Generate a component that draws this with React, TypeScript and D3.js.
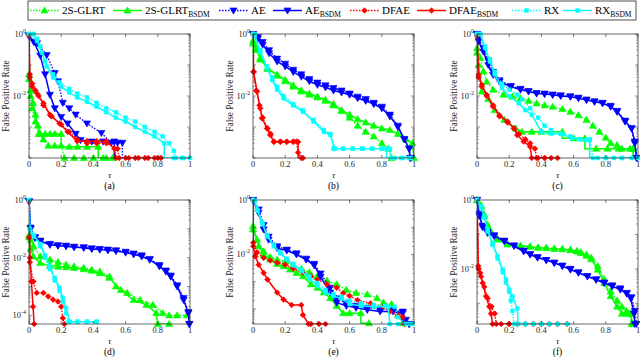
import React from "react";
import * as d3 from "d3";

type Pt = [number, number];

// ---------- data: tau vs false positive rate ----------
// (a)
const glrtA: Pt[] = [[0,0.035],[0.01,0.01],[0.02,0.004],[0.04,0.0015],[0.06,0.0006],[0.09,0.0004],[0.12,0.00025],[0.16,0.00025],[0.2,0.00025],[0.22,0.0001],[0.28,0.0001],[0.34,0.0001],[0.4,0.0001],[0.46,0.0001],[0.52,0.0001]];
const glrtBsdmA: Pt[] = [[0,0.05],[0.01,0.015],[0.025,0.006],[0.04,0.0025],[0.055,0.0011],[0.07,0.0006],[0.1,0.0006],[0.13,0.0006],[0.16,0.0006],[0.2,0.0006],[0.2,0.00023],[0.25,0.00023],[0.3,0.00023],[0.36,0.00023],[0.43,0.00023],[0.43,0.0001],[0.48,0.0001]];
const aeA: Pt[] = [[0,0.85],[0.05,0.5],[0.11,0.21],[0.16,0.055],[0.18,0.03],[0.21,0.006],[0.25,0.004],[0.29,0.0025],[0.36,0.0013],[0.45,0.00064],[0.51,0.00031],[0.55,0.00031],[0.58,0.00031],[0.58,0.0001]];
const aeBsdmA: Pt[] = [[0,0.9],[0.03,0.55],[0.07,0.2],[0.1,0.05],[0.13,0.011],[0.16,0.004],[0.2,0.0021],[0.24,0.0013],[0.29,0.0006],[0.32,0.00038],[0.39,0.00034],[0.46,0.00034],[0.53,0.00034],[0.53,0.0001]];
const dfaeA: Pt[] = [[0,0.9],[0.005,0.04],[0.02,0.02],[0.05,0.012],[0.09,0.005],[0.14,0.0022],[0.2,0.0012],[0.25,0.0007],[0.3,0.0004],[0.36,0.0003],[0.42,0.0003],[0.48,0.0003],[0.55,0.0002],[0.56,0.0001],[0.62,0.0001],[0.68,0.0001],[0.74,0.0001],[0.8,0.0001]];
const dfaeBsdmA: Pt[] = [[0,0.9],[0.005,0.05],[0.02,0.025],[0.04,0.015],[0.06,0.01],[0.09,0.0058],[0.13,0.0025],[0.19,0.0013],[0.24,0.0007],[0.3,0.00035],[0.36,0.00035],[0.42,0.00035],[0.48,0.00035],[0.53,0.0002],[0.54,0.0001],[0.6,0.0001],[0.66,0.0001],[0.72,0.0001],[0.78,0.0001],[0.82,0.0001]];
const rxA: Pt[] = [[0,1],[0.03,1],[0.05,0.7],[0.07,0.4],[0.1,0.13],[0.15,0.05],[0.19,0.028],[0.25,0.017],[0.3,0.012],[0.36,0.009],[0.42,0.006],[0.48,0.004],[0.54,0.003],[0.6,0.002],[0.66,0.0015],[0.72,0.001],[0.78,0.0007],[0.83,0.0005],[0.87,0.0003],[0.9,0.00017],[0.91,0.0001],[0.96,0.0001]];
const rxBsdmA: Pt[] = [[0,1],[0.02,1],[0.05,0.6],[0.08,0.25],[0.11,0.09],[0.15,0.04],[0.2,0.02],[0.25,0.013],[0.3,0.009],[0.36,0.0065],[0.42,0.0045],[0.48,0.003],[0.54,0.002],[0.6,0.0015],[0.66,0.001],[0.72,0.0007],[0.78,0.0005],[0.84,0.0003],[0.84,0.0001],[0.9,0.0001],[0.95,0.0001],[1,0.0001]];

// (b)
const glrtB: Pt[] = [[0,0.5],[0.02,0.3],[0.045,0.15],[0.09,0.075],[0.15,0.045],[0.2,0.03],[0.25,0.02],[0.3,0.014],[0.35,0.011],[0.4,0.009],[0.45,0.007],[0.5,0.005],[0.55,0.0033],[0.6,0.002],[0.65,0.0011],[0.7,0.0007],[0.75,0.0005],[0.8,0.0003],[0.84,0.0002],[0.86,0.0001]];
const glrtBsdmB: Pt[] = [[0,0.6],[0.02,0.35],[0.045,0.17],[0.09,0.08],[0.15,0.048],[0.2,0.033],[0.25,0.022],[0.3,0.015],[0.35,0.012],[0.4,0.0095],[0.45,0.0075],[0.5,0.0055],[0.55,0.0035],[0.6,0.0025],[0.65,0.0018],[0.7,0.0014],[0.75,0.0011],[0.8,0.0009],[0.85,0.0008],[0.9,0.0006],[0.95,0.0004],[0.99,0.0003],[1,0.0001]];
const aeB: Pt[] = [[0,1],[0.03,0.8],[0.06,0.55],[0.1,0.3],[0.15,0.16],[0.2,0.11],[0.25,0.07],[0.3,0.05],[0.35,0.035],[0.4,0.027],[0.45,0.022],[0.5,0.018],[0.55,0.015],[0.6,0.012],[0.65,0.0095],[0.7,0.008],[0.75,0.006],[0.8,0.0045],[0.85,0.0025],[0.9,0.0011],[0.94,0.0004],[0.97,0.0002],[0.98,0.0001]];
const aeBsdmB: Pt[] = [[0,1],[0.03,0.7],[0.06,0.45],[0.1,0.24],[0.15,0.13],[0.2,0.09],[0.25,0.06],[0.3,0.042],[0.35,0.03],[0.4,0.023],[0.45,0.019],[0.5,0.015],[0.55,0.013],[0.6,0.011],[0.65,0.0085],[0.7,0.007],[0.75,0.0055],[0.8,0.004],[0.85,0.0022],[0.9,0.001],[0.94,0.0004],[0.97,0.0002],[0.975,0.0001]];
const dfaeB: Pt[] = [[0,1],[0.003,0.06],[0.02,0.015],[0.04,0.005],[0.06,0.002],[0.09,0.0009],[0.11,0.0006],[0.13,0.00034],[0.17,0.00034],[0.21,0.00034],[0.25,0.00034],[0.27,0.00034],[0.28,0.00015],[0.3,0.0001]];
const dfaeBsdmB: Pt[] = [[0,1],[0.004,0.06],[0.025,0.014],[0.045,0.004],[0.056,0.0019],[0.087,0.0009],[0.107,0.00055],[0.13,0.00033],[0.17,0.00033],[0.21,0.00033],[0.25,0.00033],[0.28,0.00033],[0.28,0.0001],[0.31,0.0001]];
const rxB: Pt[] = [[0,1],[0.01,0.9],[0.045,0.3],[0.087,0.09],[0.12,0.04],[0.15,0.02],[0.19,0.01],[0.25,0.0055],[0.31,0.0035],[0.376,0.0017],[0.44,0.0008],[0.48,0.0006],[0.5,0.0002],[0.56,0.0002],[0.62,0.0002],[0.68,0.0002],[0.74,0.0002],[0.8,0.0002],[0.85,0.0002],[0.86,0.0001],[0.92,0.0001],[0.97,0.0001]];
const rxBsdmB: Pt[] = [[0,1],[0.01,1],[0.045,0.27],[0.087,0.08],[0.118,0.033],[0.15,0.016],[0.19,0.0084],[0.25,0.005],[0.31,0.0031],[0.376,0.0015],[0.44,0.0007],[0.48,0.00055],[0.51,0.0002],[0.56,0.0002],[0.62,0.0002],[0.68,0.0002],[0.74,0.0002],[0.8,0.0002],[0.83,0.0002],[0.83,0.0001],[0.88,0.0001],[0.93,0.0001],[0.98,0.0001]];

// (c)
const glrtC: Pt[] = [[0,0.35],[0.02,0.17],[0.04,0.062],[0.06,0.029],[0.1,0.016],[0.165,0.011],[0.22,0.0095],[0.27,0.0084],[0.32,0.007],[0.37,0.0058],[0.42,0.005],[0.47,0.0045],[0.53,0.0038],[0.58,0.0031],[0.63,0.0024],[0.68,0.0017],[0.72,0.0011],[0.76,0.0007],[0.8,0.00045],[0.83,0.0003],[0.87,0.00026],[0.9,0.0002],[0.95,0.0002],[0.97,0.0002],[0.97,0.0001]];
const glrtBsdmC: Pt[] = [[0,0.25],[0.01,0.1],[0.03,0.014],[0.07,0.008],[0.11,0.0035],[0.17,0.0017],[0.24,0.0009],[0.28,0.0007],[0.34,0.0007],[0.4,0.0007],[0.46,0.0007],[0.53,0.0007],[0.53,0.00043],[0.6,0.00043],[0.67,0.00043],[0.67,0.0002],[0.74,0.0002],[0.81,0.0002],[0.88,0.0002],[0.97,0.0002],[0.97,0.0001]];
const aeC: Pt[] = [[0,1],[0.01,0.7],[0.04,0.35],[0.07,0.14],[0.1,0.06],[0.14,0.032],[0.21,0.021],[0.27,0.017],[0.32,0.0145],[0.37,0.0125],[0.42,0.012],[0.47,0.011],[0.52,0.0105],[0.58,0.0097],[0.63,0.0088],[0.68,0.0077],[0.73,0.0067],[0.78,0.006],[0.83,0.0048],[0.87,0.0033],[0.92,0.0016],[0.96,0.0009],[0.98,0.0003],[0.995,0.0001]];
const aeBsdmC: Pt[] = [[0,1],[0.01,0.58],[0.04,0.27],[0.07,0.1],[0.1,0.048],[0.14,0.029],[0.21,0.02],[0.27,0.016],[0.32,0.014],[0.37,0.012],[0.42,0.0115],[0.47,0.011],[0.52,0.01],[0.58,0.0095],[0.63,0.0085],[0.68,0.0074],[0.73,0.0065],[0.78,0.0058],[0.83,0.0045],[0.87,0.0031],[0.92,0.0015],[0.96,0.0009],[0.98,0.00034],[0.99,0.0001]];
const dfaeC: Pt[] = [[0,0.9],[0.01,0.04],[0.03,0.02],[0.06,0.01],[0.1,0.0045],[0.14,0.0022],[0.19,0.0014],[0.23,0.0009],[0.26,0.0006],[0.3,0.0004],[0.33,0.0003],[0.36,0.0002],[0.37,0.0001],[0.42,0.0001]];
const dfaeBsdmC: Pt[] = [[0,0.9],[0.01,0.048],[0.03,0.023],[0.06,0.011],[0.1,0.005],[0.14,0.0024],[0.19,0.0015],[0.23,0.0009],[0.25,0.00055],[0.29,0.00034],[0.33,0.00023],[0.34,0.0001],[0.38,0.0001],[0.42,0.0001],[0.46,0.0001],[0.5,0.0001]];
const rxC: Pt[] = [[0,1],[0.02,1],[0.05,0.4],[0.08,0.15],[0.11,0.06],[0.155,0.025],[0.2,0.016],[0.25,0.011],[0.28,0.008],[0.33,0.004],[0.38,0.002],[0.42,0.0011],[0.46,0.0008],[0.52,0.0006],[0.58,0.0005],[0.64,0.0004],[0.7,0.0004],[0.72,0.0001],[0.8,0.0001],[0.9,0.0001],[1,0.0001]];
const rxBsdmC: Pt[] = [[0,1],[0.02,1],[0.05,0.35],[0.08,0.13],[0.11,0.05],[0.155,0.018],[0.2,0.01],[0.26,0.0058],[0.3,0.0035],[0.34,0.0025],[0.4,0.0007],[0.46,0.0006],[0.53,0.0006],[0.59,0.00043],[0.67,0.00038],[0.7,0.00038],[0.7,0.0001],[0.75,0.0001],[0.8,0.0001],[0.85,0.0001],[0.9,0.0001],[0.96,0.0001]];

// (d)
const glrtD: Pt[] = [[0,0.06],[0.01,0.04],[0.027,0.025],[0.07,0.011],[0.13,0.0085],[0.18,0.007],[0.23,0.0057],[0.28,0.005],[0.34,0.0044],[0.39,0.0038],[0.44,0.0033],[0.5,0.0022],[0.54,0.001],[0.61,0.0006],[0.69,0.00034],[0.77,0.00023],[0.83,0.00012],[0.87,0.0001],[0.92,0.0001],[0.98,0.0001]];
const glrtBsdmD: Pt[] = [[0,0.05],[0.01,0.02],[0.027,0.011],[0.07,0.0065],[0.13,0.0052],[0.18,0.0049],[0.23,0.0047],[0.28,0.0044],[0.34,0.004],[0.39,0.0035],[0.44,0.0029],[0.5,0.002],[0.57,0.00076],[0.65,0.00034],[0.73,0.00023],[0.79,0.00012],[0.8,0.00005],[0.87,0.00005]];
const aeD: Pt[] = [[0,0.9],[0.01,0.11],[0.037,0.052],[0.07,0.039],[0.13,0.03],[0.18,0.027],[0.23,0.026],[0.28,0.024],[0.34,0.023],[0.39,0.021],[0.44,0.02],[0.49,0.019],[0.54,0.018],[0.6,0.016],[0.65,0.014],[0.7,0.012],[0.75,0.009],[0.81,0.0055],[0.85,0.0036],[0.88,0.0024],[0.92,0.0011],[0.96,0.0004],[0.99,0.00013],[0.997,0.00005]];
const aeBsdmD: Pt[] = [[0,0.9],[0.01,0.1],[0.037,0.049],[0.07,0.037],[0.13,0.028],[0.18,0.026],[0.23,0.025],[0.28,0.023],[0.34,0.022],[0.39,0.02],[0.44,0.019],[0.49,0.018],[0.54,0.017],[0.6,0.015],[0.65,0.013],[0.7,0.011],[0.75,0.0085],[0.81,0.005],[0.85,0.0033],[0.88,0.0022],[0.92,0.001],[0.96,0.00034],[0.99,0.00012],[0.995,0.00005]];
const dfaeD: Pt[] = [[0,0.05],[0.005,0.007],[0.027,0.0015],[0.048,0.0006],[0.09,0.0006],[0.12,0.00045],[0.15,0.00035],[0.18,0.0003],[0.2,0.0002],[0.21,0.00008],[0.22,0.00005]];
const dfaeBsdmD: Pt[] = [[0,0.9],[0.003,0.05],[0.006,0.01],[0.015,0.0015],[0.025,0.0002],[0.032,0.00005]];
const rxD: Pt[] = [[0,1],[0.006,0.09],[0.03,0.055],[0.07,0.025],[0.1,0.01],[0.13,0.004],[0.16,0.0016],[0.19,0.0007],[0.21,0.0003],[0.23,0.00012],[0.245,0.00006],[0.3,0.00006],[0.36,0.00006],[0.42,0.00006]];
const rxBsdmD: Pt[] = [[0,1],[0.006,0.1],[0.03,0.06],[0.07,0.03],[0.1,0.012],[0.13,0.005],[0.16,0.002],[0.19,0.0009],[0.21,0.0004],[0.23,0.00018],[0.255,0.00006],[0.3,0.00006],[0.36,0.00006],[0.42,0.00006]];

// (e)
const glrtE: Pt[] = [[0,0.083],[0.025,0.035],[0.066,0.013],[0.107,0.008],[0.15,0.0065],[0.2,0.0055],[0.25,0.004],[0.3,0.003],[0.35,0.0022],[0.4,0.0016],[0.46,0.0011],[0.52,0.0008],[0.58,0.0005],[0.64,0.00039],[0.71,0.00034],[0.77,0.00025],[0.81,0.00017],[0.86,0.00015],[0.9,0.00006],[0.93,0.00003]];
const glrtBsdmE: Pt[] = [[0,0.11],[0.035,0.02],[0.066,0.0098],[0.107,0.0065],[0.15,0.0045],[0.19,0.0037],[0.23,0.0028],[0.27,0.0021],[0.31,0.0016],[0.36,0.0008],[0.4,0.0006],[0.44,0.0004],[0.48,0.00025],[0.52,0.00013],[0.56,0.00007],[0.6,0.00007],[0.67,0.00007],[0.67,0.00003],[0.72,0.00003]];
const aeE: Pt[] = [[0,1],[0.035,0.45],[0.066,0.12],[0.097,0.045],[0.15,0.02],[0.21,0.015],[0.27,0.011],[0.33,0.007],[0.38,0.0045],[0.42,0.002],[0.48,0.0006],[0.52,0.00025],[0.58,0.00016],[0.64,0.00013],[0.71,0.00011],[0.79,0.0001],[0.87,0.00009],[0.93,0.00008],[0.95,0.00004],[0.97,0.000028]];
const aeBsdmE: Pt[] = [[0,1],[0.035,0.34],[0.066,0.083],[0.097,0.035],[0.15,0.017],[0.21,0.014],[0.27,0.01],[0.33,0.0065],[0.38,0.004],[0.42,0.0015],[0.48,0.0004],[0.52,0.00017],[0.58,0.00013],[0.64,0.00011],[0.71,0.000093],[0.79,0.000081],[0.87,0.000081],[0.93,0.00007],[0.94,0.000035],[0.97,0.000028]];
const dfaeE: Pt[] = [[0,1],[0.002,0.027],[0.025,0.012],[0.066,0.0075],[0.107,0.006],[0.15,0.005],[0.2,0.0042],[0.25,0.003],[0.31,0.0022],[0.36,0.0016],[0.4,0.0012],[0.46,0.0008],[0.52,0.0006],[0.56,0.00038],[0.6,0.0003],[0.65,0.00021],[0.73,0.00016],[0.81,0.00012],[0.85,0.00008],[0.9,0.00006],[0.93,0.00005],[0.94,0.000028]];
const dfaeBsdmE: Pt[] = [[0,1],[0.002,0.02],[0.015,0.0085],[0.035,0.0042],[0.066,0.0021],[0.09,0.0012],[0.15,0.0004],[0.19,0.00022],[0.24,0.00014],[0.3,0.00014],[0.31,0.00006],[0.345,0.000028],[0.36,0.000028],[0.41,0.000028],[0.45,0.000028]];
const rxE: Pt[] = [[0,1],[0.01,0.95],[0.03,0.4],[0.06,0.13],[0.09,0.045],[0.13,0.022],[0.17,0.012],[0.21,0.007],[0.25,0.0045],[0.3,0.0028],[0.35,0.0016],[0.4,0.0009],[0.45,0.0005],[0.5,0.00035],[0.55,0.00028],[0.6,0.0002],[0.67,0.00016],[0.75,0.00014],[0.82,0.00013],[0.88,0.00012],[0.9,0.00005],[0.95,0.000028],[0.99,0.000028]];
const rxBsdmE: Pt[] = [[0,1],[0.01,0.9],[0.025,0.45],[0.056,0.15],[0.087,0.05],[0.13,0.02],[0.17,0.011],[0.21,0.0065],[0.25,0.004],[0.3,0.0025],[0.35,0.0013],[0.4,0.0007],[0.45,0.0004],[0.5,0.0003],[0.55,0.00024],[0.6,0.00015],[0.67,0.00013],[0.75,0.00012],[0.84,0.00012],[0.85,0.000028],[0.9,0.000028],[0.97,0.000028]];

// (f)
const glrtF: Pt[] = [[0,1],[0.025,0.7],[0.045,0.38],[0.066,0.19],[0.087,0.12],[0.128,0.075],[0.19,0.053],[0.27,0.047],[0.33,0.045],[0.38,0.042],[0.43,0.041],[0.48,0.039],[0.53,0.038],[0.58,0.036],[0.62,0.033],[0.645,0.03],[0.68,0.026],[0.71,0.021],[0.75,0.012],[0.79,0.005],[0.83,0.0022],[0.87,0.0012],[0.9,0.0008],[0.93,0.0006],[0.95,0.0005],[0.96,0.00025]];
const glrtBsdmF: Pt[] = [[0,1],[0.025,0.66],[0.045,0.34],[0.066,0.17],[0.087,0.11],[0.128,0.071],[0.19,0.051],[0.27,0.046],[0.33,0.044],[0.38,0.041],[0.43,0.04],[0.48,0.038],[0.53,0.037],[0.58,0.035],[0.62,0.032],[0.645,0.029],[0.68,0.024],[0.71,0.019],[0.75,0.0095],[0.79,0.0039],[0.83,0.0016],[0.87,0.0008],[0.9,0.0005],[0.93,0.0005],[0.955,0.0005],[0.965,0.00025]];
const aeF: Pt[] = [[0,1],[0.015,0.4],[0.035,0.18],[0.066,0.12],[0.107,0.095],[0.17,0.066],[0.23,0.048],[0.29,0.034],[0.33,0.027],[0.376,0.022],[0.43,0.018],[0.48,0.015],[0.53,0.0125],[0.58,0.01],[0.63,0.008],[0.686,0.0062],[0.74,0.005],[0.79,0.004],[0.84,0.0033],[0.89,0.0027],[0.93,0.002],[0.96,0.0015],[0.98,0.0006],[0.99,0.00025]];
const aeBsdmF: Pt[] = [[0,1],[0.015,0.34],[0.035,0.16],[0.066,0.11],[0.107,0.089],[0.17,0.063],[0.23,0.046],[0.29,0.032],[0.33,0.026],[0.376,0.021],[0.43,0.018],[0.48,0.015],[0.53,0.012],[0.58,0.0095],[0.63,0.0077],[0.686,0.006],[0.74,0.0048],[0.79,0.0039],[0.84,0.0031],[0.89,0.0025],[0.93,0.0019],[0.955,0.0014],[0.975,0.0005],[0.98,0.00025]];
const dfaeF: Pt[] = [[0,1],[0.01,0.01],[0.025,0.006],[0.045,0.003],[0.066,0.0014],[0.09,0.0008],[0.11,0.0005],[0.12,0.00025],[0.2,0.00025]];
const dfaeBsdmF: Pt[] = [[0,1],[0.008,0.012],[0.02,0.0076],[0.035,0.0039],[0.056,0.0016],[0.076,0.0008],[0.087,0.0005],[0.097,0.00025],[0.15,0.00025],[0.2,0.00025],[0.25,0.00025],[0.3,0.00025],[0.35,0.00025],[0.4,0.00025],[0.45,0.00025],[0.5,0.00025],[0.56,0.00025]];
const rxF: Pt[] = [[0,1],[0.025,0.6],[0.045,0.3],[0.066,0.12],[0.097,0.05],[0.128,0.02],[0.16,0.008],[0.18,0.004],[0.2,0.0022],[0.21,0.0012],[0.22,0.0006],[0.23,0.00025],[0.3,0.00025]];
const rxBsdmF: Pt[] = [[0,1],[0.025,0.66],[0.045,0.34],[0.066,0.14],[0.097,0.056],[0.128,0.023],[0.16,0.0095],[0.18,0.0049],[0.2,0.0025],[0.22,0.0016],[0.25,0.0007],[0.256,0.00025],[0.3,0.00025],[0.35,0.00025],[0.4,0.00025],[0.45,0.00025],[0.5,0.00025],[0.56,0.00025]];

const seriesNames = ["2S-GLRT", "2S-GLRT", "AE", "AE", "DFAE", "DFAE", "RX", "RX"];
const seriesBsdm = [false, true, false, true, false, true, false, true];
const panelLabels = ["(a)", "(b)", "(c)", "(d)", "(e)", "(f)"];
const panelYMin = [1e-4, 1e-4, 1e-4, 5e-5, 2.8e-5, 2.5e-4];
const panelYTicks = [[1, 1e-2], [1, 1e-2], [1, 1e-2], [1, 1e-2, 1e-4], [1, 1e-2], [1, 1e-2]];
const xTicks = [0, 0.2, 0.4, 0.6, 0.8, 1];
const xTickLabels = ["0", "0.2", "0.4", "0.6", "0.8", "1"];

const panelSeries: Pt[][][] = [
  [glrtA, glrtBsdmA, aeA, aeBsdmA, dfaeA, dfaeBsdmA, rxA, rxBsdmA],
  [glrtB, glrtBsdmB, aeB, aeBsdmB, dfaeB, dfaeBsdmB, rxB, rxBsdmB],
  [glrtC, glrtBsdmC, aeC, aeBsdmC, dfaeC, dfaeBsdmC, rxC, rxBsdmC],
  [glrtD, glrtBsdmD, aeD, aeBsdmD, dfaeD, dfaeBsdmD, rxD, rxBsdmD],
  [glrtE, glrtBsdmE, aeE, aeBsdmE, dfaeE, dfaeBsdmE, rxE, rxBsdmE],
  [glrtF, glrtBsdmF, aeF, aeBsdmF, dfaeF, dfaeBsdmF, rxF, rxBsdmF],
];

// ---------- styles / layout ----------
const colors = ["#00ff00", "#00ff00", "#0000ff", "#0000ff", "#ff0000", "#ff0000", "#00ffff", "#00ffff"];
const markerKinds = ["up", "up", "down", "down", "diamond", "diamond", "square", "square"];
const FONT = "Liberation Serif, Times New Roman, serif";
const colX = [29, 253, 477];
const rowY = [34, 200];
const plotW = 161;
const plotH = 124;
const legendX = [30, 113, 219, 273, 350, 417, 512, 563];

const triPath = d3.symbol().type(d3.symbolTriangle).size(22)() as string;
const sqPath = d3.symbol().type(d3.symbolSquare).size(14)() as string;
const diaPath = d3.symbol().type(d3.symbolSquare).size(16)() as string;

const Marker = ({ kind, x, y, color }: { kind: string; x: number; y: number; color: string }) => {
  if (kind === "up") return <path d={triPath} transform={`translate(${x},${y + 0.5})`} fill={color} stroke={color} strokeWidth={0.6} />;
  if (kind === "down") return <path d={triPath} transform={`translate(${x},${y - 0.5}) rotate(180)`} fill={color} stroke={color} strokeWidth={0.6} />;
  if (kind === "diamond") return <path d={diaPath} transform={`translate(${x},${y}) rotate(45)`} fill={color} stroke={color} strokeWidth={0.6} />;
  return <path d={sqPath} transform={`translate(${x},${y})`} fill={color} stroke={color} strokeWidth={0.6} />;
};

const Panel = ({ idx }: { idx: number }) => {
  const x0 = colX[idx % 3];
  const y0 = rowY[Math.floor(idx / 3)];
  const lo = panelYMin[idx];
  const x = d3.scaleLinear().domain([0, 1]).range([x0, x0 + plotW]);
  const y = d3.scaleLog().domain([lo, 1]).range([y0 + plotH, y0]);
  const yc = (v: number) => y(Math.max(v, lo));
  const line = d3.line<Pt>().x(d => x(d[0])).y(d => yc(d[1]));

  // log minor ticks
  const minor: { v: number; major: boolean }[] = [];
  for (let e = Math.floor(Math.log10(lo)); e <= 0; e++) {
    for (let m = 1; m <= 9; m++) {
      const v = m * Math.pow(10, e);
      if (v >= lo * 0.999 && v <= 1.0001) minor.push({ v, major: m === 1 });
    }
  }
  const clipId = `clip${idx}`;
  return (
    <g>
      <defs>
        <clipPath id={clipId}>
          <rect x={x0} y={y0} width={plotW} height={plotH} />
        </clipPath>
      </defs>
      {panelSeries[idx].map((data, s) => (
        <g key={s}>
          <path
            d={line(data) || ""}
            fill="none"
            stroke={colors[s]}
            strokeWidth={seriesBsdm[s] ? 1.5 : 1.4}
            strokeDasharray={seriesBsdm[s] ? undefined : "1.5 1.5"}
            clipPath={`url(#${clipId})`}
          />
          {data
            .filter((d, i) => i === 0 || d[0] !== data[i - 1][0])
            .map((d, i) => (
              <Marker key={i} kind={markerKinds[s]} x={x(d[0])} y={yc(d[1])} color={colors[s]} />
            ))}
        </g>
      ))}
      <rect x={x0} y={y0} width={plotW} height={plotH} fill="none" stroke="#262626" strokeWidth={0.7} />
      {xTicks.map((t, i) => (
        <g key={i}>
          <line x1={x(t)} x2={x(t)} y1={y0 + plotH} y2={y0 + plotH - 3} stroke="#262626" strokeWidth={0.6} />
          <line x1={x(t)} x2={x(t)} y1={y0} y2={y0 + 3} stroke="#262626" strokeWidth={0.6} />
          <text x={x(t)} y={y0 + plotH + 9} textAnchor="middle" fontSize={8.5} fontFamily={FONT} fill="#262626">
            {xTickLabels[i]}
          </text>
        </g>
      ))}
      {minor.map((t, i) => {
        const len = t.major ? 3 : 1.6;
        return (
          <g key={i}>
            <line x1={x0} x2={x0 + len} y1={y(t.v)} y2={y(t.v)} stroke="#262626" strokeWidth={0.5} />
            <line x1={x0 + plotW} x2={x0 + plotW - len} y1={y(t.v)} y2={y(t.v)} stroke="#262626" strokeWidth={0.5} />
          </g>
        );
      })}
      {panelYTicks[idx].map((t, i) => (
        <text key={i} x={x0 - 3} y={y(t) + 3} textAnchor="end" fontSize={8.5} fontFamily={FONT} fill="#262626">
          10<tspan fontSize={6} dy={-4}>{Math.round(Math.log10(t))}</tspan>
        </text>
      ))}
      <text
        transform={`translate(${x0 - 20},${y0 + plotH / 2}) rotate(-90)`}
        textAnchor="middle"
        fontSize={9.3}
        fontFamily={FONT}
        fill="#262626"
      >
        False Positive Rate
      </text>
      <text x={x0 + plotW / 2} y={y0 + plotH + 19.5} textAnchor="middle" fontSize={9} fontStyle="italic" fontFamily={FONT} fill="#262626">
        τ
      </text>
      <text x={x0 + plotW / 2} y={y0 + plotH + 31} textAnchor="middle" fontSize={9.5} fontFamily={FONT} fill="#000">
        {panelLabels[idx]}
      </text>
    </g>
  );
};

const Legend = () => (
  <g>
    <rect x={28} y={1} width={608} height={19} fill="#fff" stroke="#262626" strokeWidth={0.8} />
    {seriesNames.map((name, s) => {
      const lx = legendX[s];
      const lw = 29;
      return (
        <g key={s}>
          <line x1={lx} x2={lx + lw} y1={10.5} y2={10.5} stroke={colors[s]} strokeWidth={1.5}
            strokeDasharray={seriesBsdm[s] ? undefined : "1.5 1.5"} />
          <Marker kind={markerKinds[s]} x={lx + lw / 2} y={10.5} color={colors[s]} />
          <text x={lx + lw + 3} y={14} fontSize={11} fontFamily={FONT} fill="#000">
            {name}
            {seriesBsdm[s] ? <tspan fontSize={7.5} dy={3}>BSDM</tspan> : null}
          </text>
        </g>
      );
    })}
  </g>
);

export default function App() {
  return (
    <div style={{ position: "absolute", left: 0, top: 0, width: 640, height: 362, background: "#fff" }}>
      <svg width={640} height={362} viewBox="0 0 640 362">
        <rect width={640} height={362} fill="#fff" />
        {panelLabels.map((_, i) => (
          <Panel key={i} idx={i} />
        ))}
        <Legend />
      </svg>
    </div>
  );
}
